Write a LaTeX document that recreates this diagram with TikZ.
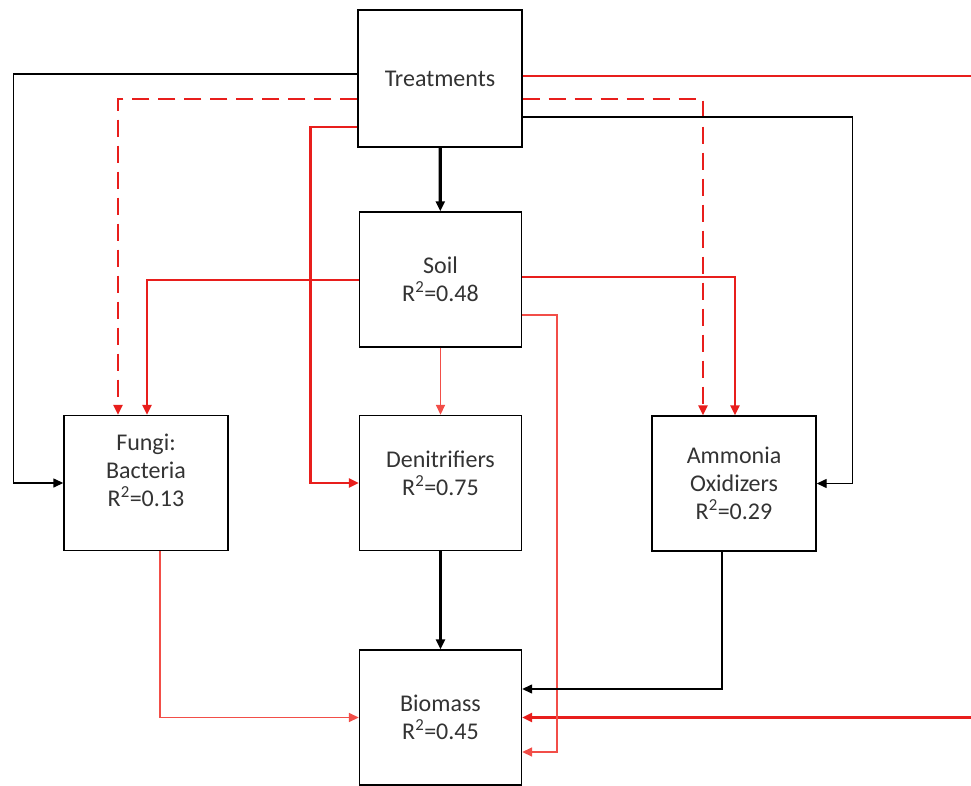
\documentclass[tikz,border=0pt]{standalone}
\usepackage{fontspec}
\setmainfont{Carlito}
\usetikzlibrary{arrows.meta}
\definecolor{pathred}{RGB}{232,30,28}
\definecolor{lightred}{RGB}{242,78,72}
\begin{document}
\begin{tikzpicture}[x=1pt,y=-1pt, every node/.style={font=\fontsize{24}{28}\selectfont},
  box/.style={draw,line width=1.4pt,minimum width=162pt,minimum height=135pt,inner sep=0pt,align=center,text=black!80},
  lbl/.style={align=center,text=black!80,inner sep=0pt},
  tip/.style={-{Triangle[length=10pt,width=9pt]}},
  blk/.style={tip,line width=1.4pt},
  bold/.style={tip,line width=3.2pt},
  redpath/.style={tip,pathred,line width=2.4pt},
  redthin/.style={tip,lightred,line width=1.6pt},
  reddash/.style={redpath,dash pattern=on 17pt off 9pt}]
\useasboundingbox (0,0) rectangle (971,786);
% boxes
\node[box,minimum width=164pt,minimum height=137pt] (treat) at (440,78.5) {Treatments};
\node[box] (soil) at (440.5,279.5) {Soil\\R\textsuperscript{2}=0.48};
\node[box,minimum width=164pt] (fungi) at (146,483) {};
\node[lbl] (fungitext) at (146,470) {Fungi:\\Bacteria\\R\textsuperscript{2}=0.13};
\node[box] (denit) at (440.5,483) {};
\node[lbl] (denittext) at (440.5,473) {Denitrifiers\\R\textsuperscript{2}=0.75};
\node[box,minimum width=164pt] (ammon) at (734,483.5) {Ammonia\\Oxidizers\\R\textsuperscript{2}=0.29};
\node[box] (biomass) at (440.5,717.5) {Biomass\\R\textsuperscript{2}=0.45};
% paths from treatments
\draw[blk] ([yshift=4.5pt]treat.west) -| ([xshift=-50pt]fungi.west) -- (fungi.west);
\draw[reddash] ([yshift=-20.5pt]treat.west) -| ([xshift=-28pt]fungi.north);
\draw[redpath] ([yshift=-48.5pt]treat.west) -| ([xshift=-48.5pt]denit.west) -- (denit.west);
\draw[redpath] ([yshift=2.5pt]treat.east) -| ([xshift=456pt]biomass.east) -- (biomass.east);
\draw[reddash] ([yshift=-20.5pt]treat.east) -| ([xshift=-31pt]ammon.north);
\draw[blk] ([yshift=-38.5pt]treat.east) -| ([xshift=36pt]ammon.east) -- (ammon.east);
\draw[bold] (treat) -- (soil);
% paths from soil
\draw[redpath] ([yshift=-0.5pt]soil.west) -| ([xshift=1pt]fungi.north);
\draw[redpath] ([yshift=2.5pt]soil.east) -| ([xshift=1pt]ammon.north);
\draw[redthin] ([yshift=-35.5pt]soil.east) -| ([xshift=35pt,yshift=-34.5pt]biomass.east) -- ([yshift=-34.5pt]biomass.east);
\draw[redthin] (soil) -- (denit);
% paths to biomass
\draw[bold] (denit) -- (biomass);
\draw[redthin] ([xshift=14pt]fungi.south) |- (biomass.west);
\draw[blk] ([xshift=-12pt]ammon.south) |- ([yshift=28.5pt]biomass.east);
\end{tikzpicture}
\end{document}
